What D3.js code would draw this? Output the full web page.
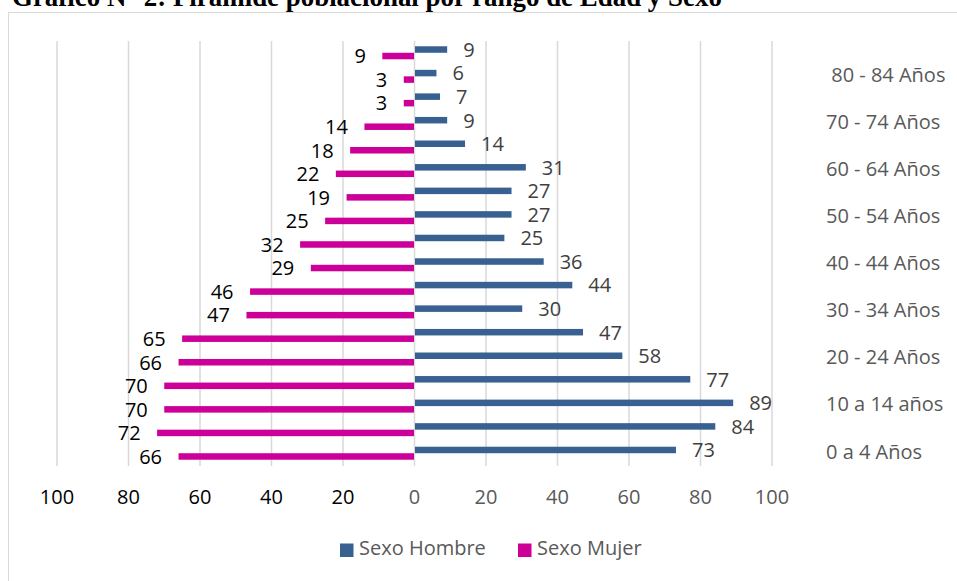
<!DOCTYPE html>
<html>
<head>
<meta charset="utf-8">
<script src="https://cdn.jsdelivr.net/npm/d3@7"></script>
<style>
  html, body { margin: 0; padding: 0; background: #fff; overflow: hidden; }
  svg { display: block; }
  text { font-family: "Open Sans", "Noto Sans", sans-serif; }
</style>
</head>
<body>
<svg id="chart" width="957" height="581"></svg>
<script>
// ---- Data (bottom to top) ----
const ageGroups = ["0 a 4 Años", "5 a 9 Años", "10 a 14 años", "15 - 19 Años", "20 - 24 Años",
  "25 - 29 Años", "30 - 34 Años", "35 - 39 Años", "40 - 44 Años", "45 - 49 Años",
  "50 - 54 Años", "55 - 59 Años", "60 - 64 Años", "65 - 69 Años", "70 - 74 Años",
  "75 - 79 Años", " 80 - 84 Años", "85 y más Años"];
const hombre = [73, 84, 89, 77, 58, 47, 30, 44, 36, 25, 27, 27, 31, 14, 9, 7, 6, 9];
const mujer  = [66, 72, 70, 70, 66, 65, 47, 46, 29, 32, 25, 19, 22, 18, 14, 3, 3, 9];
const seriesNames = ["Sexo Hombre", "Sexo Mujer"];
const tickValues = [-100, -80, -60, -40, -20, 0, 20, 40, 60, 80, 100];
const titleText = "Gráfico N° 2: Pirámide poblacional por rango de Edad y Sexo";

const colHombre = "#386192";
const colMujer = "#cc0099";

const svg = d3.select("#chart");

// Title (cropped at top like reference)
const title = svg.append("text")
  .attr("x", 12).attr("y", 6)
  .style("font-family", "'Liberation Serif', 'Times New Roman', serif")
  .style("font-weight", "bold")
  .style("font-size", "20px")
  .attr("fill", "#000")
  .text(titleText);
const tw = title.node().getComputedTextLength();
title.style("font-size", (20 * 710 / tw) + "px");

// Chart area border
svg.append("rect")
  .attr("x", 8.5).attr("y", 12.5).attr("width", 960).attr("height", 580)
  .attr("fill", "none").attr("stroke", "#d9d9d9").attr("stroke-width", 1);

// Scales
const x = d3.scaleLinear().domain([-100, 100]).range([57, 772]);
const y = d3.scaleBand().domain(d3.range(ageGroups.length)).range([465, 41]).padding(0);
const sub = d3.scaleBand().domain(["h", "m"]).range([0, y.bandwidth()]).paddingInner(0).paddingOuter(0.81);

// Gridlines
svg.append("g").selectAll("line").data(tickValues).join("line")
  .attr("x1", d => x(d)).attr("x2", d => x(d))
  .attr("y1", 41).attr("y2", 466)
  .attr("stroke", "#d9d9d9").attr("stroke-width", 1.5);

// X tick labels
svg.append("g").selectAll("text").data(tickValues).join("text")
  .attr("x", d => x(d)).attr("y", 504)
  .attr("text-anchor", "middle")
  .style("font-size", "20px")
  .attr("fill", d => d < 0 ? "#000" : "#595959")
  .text(d => Math.abs(d));

// Bars
const idx = d3.range(ageGroups.length);
svg.append("g").selectAll("rect").data(idx).join("rect")
  .attr("x", i => x(0) + 0.5)
  .attr("width", i => x(hombre[i]) - x(0))
  .attr("y", i => y(i) + sub("h"))
  .attr("height", sub.bandwidth())
  .attr("fill", colHombre);

svg.append("g").selectAll("rect").data(idx).join("rect")
  .attr("x", i => x(-mujer[i]))
  .attr("width", i => x(0) - x(-mujer[i]) - 0.5)
  .attr("y", i => y(i) + sub("m"))
  .attr("height", sub.bandwidth())
  .attr("fill", colMujer);

// Data labels
svg.append("g").selectAll("text").data(idx).join("text")
  .attr("x", i => x(hombre[i]) + 16.5)
  .attr("y", i => y(i) + sub("h") + sub.bandwidth() / 2 + 2)
  .attr("dominant-baseline", "middle")
  .style("font-size", "20px")
  .attr("fill", "#404040")
  .text(i => hombre[i]);

svg.append("g").selectAll("text").data(idx).join("text")
  .attr("x", i => x(-mujer[i]) - 16.5)
  .attr("y", i => y(i) + sub("m") + sub.bandwidth() / 2 + 2)
  .attr("dominant-baseline", "middle")
  .attr("text-anchor", "end")
  .style("font-size", "20px")
  .attr("fill", "#000")
  .text(i => mujer[i]);

// Right category labels (every other)
svg.append("g").selectAll("text").data(idx.filter(i => i % 2 === 0)).join("text")
  .attr("x", 826)
  .attr("y", i => y(i) + y.bandwidth() / 2)
  .attr("dominant-baseline", "middle")
  .style("font-size", "20px")
  .style("white-space", "pre")
  .attr("xml:space", "preserve")
  .attr("fill", "#595959")
  .text(i => ageGroups[i]);

// Legend
const legend = svg.append("g");
const legendItems = [
  { name: seriesNames[0], color: colHombre, x: 340 },
  { name: seriesNames[1], color: colMujer, x: 518 }
];
legend.selectAll("rect").data(legendItems).join("rect")
  .attr("x", d => d.x).attr("y", 543.5).attr("width", 13.5).attr("height", 13.5)
  .attr("fill", d => d.color);
legend.selectAll("text").data(legendItems).join("text")
  .attr("x", d => d.x + 19).attr("y", 550)
  .attr("dominant-baseline", "middle")
  .style("font-size", "20px")
  .attr("fill", "#595959")
  .text(d => d.name);
</script>
</body>
</html>
